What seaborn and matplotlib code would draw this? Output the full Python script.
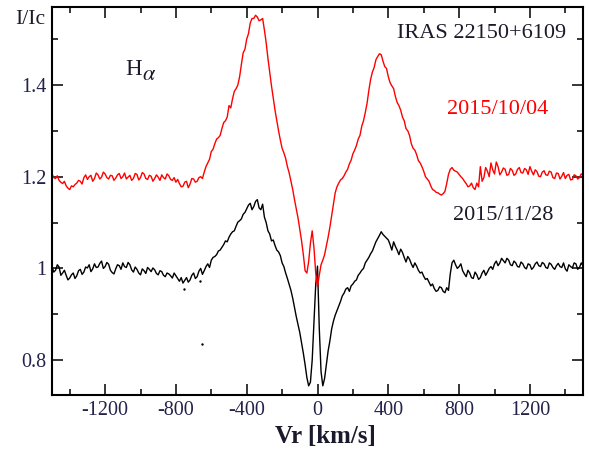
import numpy as np
import pandas as pd
import matplotlib
matplotlib.use("Agg")
import matplotlib.pyplot as plt
from matplotlib.ticker import FixedLocator, FixedFormatter, MultipleLocator
import seaborn as sns

# Radial-velocity grid (km/s), 10 km/s sampling
velocity = np.arange(-1500, 1501, 10)

# H-alpha profile, 2015/11/28 (normalised to continuum)
flux_20151128 = [
    1.004, 0.992, 0.996, 1.008, 1.003, 0.985, 0.990, 0.996, 0.985, 0.975,
    0.979, 0.986, 0.990, 0.978, 0.984, 0.995, 0.998, 0.987, 0.992, 1.003,
    1.001, 1.008, 0.993, 0.999, 1.010, 1.002, 1.003, 1.011, 1.016, 1.000,
    1.004, 1.013, 1.009, 0.996, 0.991, 0.988, 0.999, 1.008, 1.006, 0.998,
    1.012, 1.004, 1.002, 1.013, 1.008, 0.997, 0.992, 1.003, 0.998, 0.990,
    0.986, 0.999, 0.995, 0.989, 1.002, 0.998, 0.993, 1.001, 0.997, 0.989,
    0.986, 0.995, 0.993, 0.985, 0.982, 0.990, 0.988, 0.984, 0.979, 0.990,
    0.984, 0.978, 0.972, 0.980, 0.968, 0.974, 0.980, 0.970, 0.975, 0.985,
    0.990, 0.978, 0.982, 0.994, 1.000, 0.987, 0.995, 1.004, 1.010, 1.002,
    1.018, 1.024, 1.026, 1.030, 1.038, 1.040, 1.046, 1.052, 1.060, 1.058,
    1.068, 1.075, 1.080, 1.082, 1.092, 1.101, 1.104, 1.108, 1.118, 1.122,
    1.130, 1.138, 1.142, 1.128, 1.135, 1.146, 1.150, 1.132, 1.128, 1.140,
    1.112, 1.100, 1.082, 1.075, 1.060, 1.062, 1.050, 1.040, 1.036, 1.028,
    1.012, 1.004, 0.990, 0.978, 0.965, 0.952, 0.935, 0.915, 0.895, 0.878,
    0.860, 0.838, 0.815, 0.790, 0.762, 0.744, 0.752, 0.800, 0.880, 0.965,
    1.005, 0.870, 0.775, 0.744, 0.760, 0.790, 0.820, 0.842, 0.868, 0.885,
    0.898, 0.908, 0.918, 0.928, 0.940, 0.946, 0.955, 0.958, 0.950, 0.962,
    0.966, 0.972, 0.975, 0.985, 0.990, 0.996, 1.000, 1.012, 1.018, 1.024,
    1.032, 1.038, 1.048, 1.058, 1.065, 1.072, 1.080, 1.074, 1.070, 1.066,
    1.062, 1.052, 1.040, 1.058, 1.048, 1.040, 1.030, 1.042, 1.035, 1.024,
    1.014, 1.026, 1.020, 1.010, 1.002, 1.012, 1.005, 0.996, 0.990, 0.992,
    0.983, 0.976, 0.978, 0.970, 0.962, 0.966, 0.956, 0.950, 0.952, 0.960,
    0.958, 0.950, 0.947, 0.958, 0.952, 0.988, 1.012, 1.018, 1.008, 1.000,
    1.004, 1.010, 0.995, 0.988, 0.982, 0.996, 0.990, 0.980, 0.978, 0.992,
    0.986, 0.976, 0.980, 0.990, 0.996, 0.985, 0.992, 1.000, 1.004, 0.998,
    1.010, 1.016, 1.006, 1.012, 1.022, 1.017, 1.012, 1.022, 1.018, 1.008,
    1.006, 1.016, 1.012, 1.004, 1.003, 1.014, 1.010, 1.002, 0.999, 1.010,
    1.008, 0.998, 1.002, 1.010, 1.014, 1.006, 1.004, 1.013, 1.010, 1.002,
    1.000, 1.012, 1.009, 1.002, 0.998, 1.006, 1.011, 1.004, 1.002, 1.012,
    0.999, 0.994, 1.008, 1.004, 1.001, 1.012, 1.010, 0.998, 1.002, 1.012,
    1.006,
]

# H-alpha profile, 2015/10/04 (shifted up by 0.2)
flux_20151004 = [
    1.206, 1.198, 1.196, 1.202, 1.192, 1.188, 1.185, 1.190, 1.180, 1.175,
    1.172, 1.180, 1.178, 1.183, 1.186, 1.192, 1.190, 1.184, 1.198, 1.204,
    1.194, 1.200, 1.203, 1.190, 1.196, 1.208, 1.204, 1.195, 1.199, 1.210,
    1.206, 1.198, 1.195, 1.203, 1.202, 1.192, 1.197, 1.204, 1.207, 1.196,
    1.200, 1.208, 1.195, 1.199, 1.203, 1.192, 1.196, 1.207, 1.205, 1.193,
    1.198, 1.209, 1.206, 1.196, 1.194, 1.203, 1.201, 1.190, 1.196, 1.204,
    1.199, 1.192, 1.204, 1.198, 1.195, 1.206, 1.202, 1.194, 1.192, 1.198,
    1.188, 1.194, 1.185, 1.178, 1.179, 1.188, 1.190, 1.176, 1.184, 1.196,
    1.195, 1.188, 1.190, 1.198, 1.200, 1.196, 1.210, 1.222, 1.230, 1.238,
    1.255, 1.260, 1.272, 1.282, 1.285, 1.290, 1.305, 1.318, 1.322, 1.330,
    1.355, 1.350, 1.370, 1.386, 1.392, 1.400, 1.418, 1.445, 1.470, 1.478,
    1.500, 1.512, 1.535, 1.545, 1.545, 1.552, 1.548, 1.540, 1.542, 1.545,
    1.520, 1.492, 1.458, 1.428, 1.398, 1.372, 1.345, 1.322, 1.300, 1.280,
    1.262, 1.252, 1.240, 1.222, 1.208, 1.190, 1.172, 1.150, 1.130, 1.110,
    1.085, 1.060, 1.030, 0.995, 0.990, 1.015, 1.055, 1.082, 1.045, 0.990,
    0.960, 0.985, 1.008, 1.018, 1.030, 1.049, 1.068, 1.090, 1.115, 1.140,
    1.165, 1.178, 1.186, 1.193, 1.196, 1.202, 1.210, 1.216, 1.228, 1.236,
    1.250, 1.258, 1.268, 1.282, 1.290, 1.310, 1.322, 1.340, 1.360, 1.388,
    1.412, 1.428, 1.438, 1.455, 1.462, 1.468, 1.466, 1.452, 1.440, 1.436,
    1.418, 1.405, 1.398, 1.392, 1.375, 1.362, 1.355, 1.345, 1.330, 1.322,
    1.305, 1.300, 1.290, 1.272, 1.262, 1.258, 1.248, 1.235, 1.230, 1.222,
    1.212, 1.200, 1.195, 1.190, 1.180, 1.172, 1.170, 1.166, 1.165, 1.162,
    1.160, 1.163, 1.168, 1.185, 1.205, 1.216, 1.220, 1.214, 1.212, 1.210,
    1.205, 1.200, 1.196, 1.190, 1.185, 1.178, 1.180, 1.186, 1.176, 1.172,
    1.186, 1.178, 1.222, 1.190, 1.198, 1.220, 1.212, 1.200, 1.230, 1.215,
    1.206, 1.232, 1.222, 1.204, 1.210, 1.219, 1.216, 1.203, 1.205, 1.218,
    1.214, 1.203, 1.206, 1.216, 1.220, 1.209, 1.208, 1.218, 1.215, 1.205,
    1.222, 1.212, 1.204, 1.215, 1.211, 1.201, 1.200, 1.210, 1.213, 1.204,
    1.203, 1.212, 1.210, 1.198, 1.196, 1.208, 1.207, 1.195, 1.201, 1.209,
    1.196, 1.203, 1.205, 1.193, 1.194, 1.204, 1.202, 1.195, 1.198, 1.206,
    1.203,
]

# isolated bad pixels left on the 2015/11/28 spectrum
stray_v = [-752, -662, -654]
stray_f = [0.955, 0.973, 0.836]

x_ticks = [-1200, -800, -400, 0, 400, 800, 1200]
x_labels = ["-1200", "-800", "-400", "0", "400", "800", "1200"]
y_ticks = [0.8, 1.0, 1.2, 1.4]
y_labels = ["0.8", "1", "1.2", "1.4"]

sns.set_theme(style="white")
plt.rcParams["font.family"] = ["Liberation Serif", "DejaVu Serif"]
plt.rcParams["mathtext.fontset"] = "stix"
plt.rcParams["axes.unicode_minus"] = False

W, H = 589, 454
fig = plt.figure(figsize=(W / 100, H / 100), dpi=100)
ax = fig.add_axes([52 / W, 59 / H, 531 / W, 388 / H])

df = pd.DataFrame({"v": velocity, "f1128": flux_20151128, "f1004": flux_20151004})
sns.lineplot(data=df, x="v", y="f1128", color="black", lw=1.0, estimator=None, sort=False, ax=ax)
sns.lineplot(data=df, x="v", y="f1004", color="#ff0000", lw=1.0, estimator=None, sort=False, ax=ax)
sns.scatterplot(x=stray_v, y=stray_f, color="black", s=3, linewidth=0, ax=ax)

ax.set_xlim(-1500, 1500)
ax.set_ylim(0.724, 1.57)

ax.xaxis.set_major_locator(FixedLocator(x_ticks))
ax.xaxis.set_major_formatter(FixedFormatter(x_labels))
ax.xaxis.set_minor_locator(MultipleLocator(200))
ax.yaxis.set_major_locator(FixedLocator(y_ticks))
ax.yaxis.set_major_formatter(FixedFormatter(y_labels))
ax.yaxis.set_minor_locator(MultipleLocator(0.1))

tick_color = "#23234a"
ax.tick_params(which="both", direction="in", top=True, right=True, bottom=True, left=True,
               color="black", width=1.1, labelsize=14.5, labelcolor=tick_color)
ax.tick_params(which="major", length=8, pad=4)
ax.tick_params(which="minor", length=4.5)
for s in ax.spines.values():
    s.set_linewidth(1.5)
    s.set_color("black")

ax.set_xlabel("Vr [km/s]", fontsize=18, fontweight="bold", color="#1a1a2a")
ax.xaxis.set_label_coords((325 - 52) / 531, (395 - 437) / 388)
ax.xaxis.label.set_va("center")
ax.set_ylabel("I/Ic", fontsize=15.5, rotation=0, color="#1a1a2a")
ax.yaxis.set_label_coords((30 - 52) / 531, (395 - 19.5) / 388)
ax.yaxis.label.set_va("center")
ax.yaxis.label.set_ha("center")


def fpos(px, py):
    return px / W, 1 - py / H


fig.text(*fpos(125, 75), "H", fontsize=16.5, ha="left", va="baseline", color="#1a1a2a")
fig.text(*fpos(142.5, 80), r"$\alpha$", fontsize=16, ha="left", va="baseline", color="#1a1a2a")
fig.text(*fpos(481.7, 33.3), "IRAS 22150+6109", fontsize=16, ha="center", va="center", color="#1a1a2a")
fig.text(*fpos(497.5, 110), "2015/10/04", fontsize=16, ha="center", va="center", color="#ff0000")
fig.text(*fpos(503.4, 216), "2015/11/28", fontsize=16, ha="center", va="center", color="#1a1a2a")

fig.savefig("out.png", dpi=100, facecolor="white")
